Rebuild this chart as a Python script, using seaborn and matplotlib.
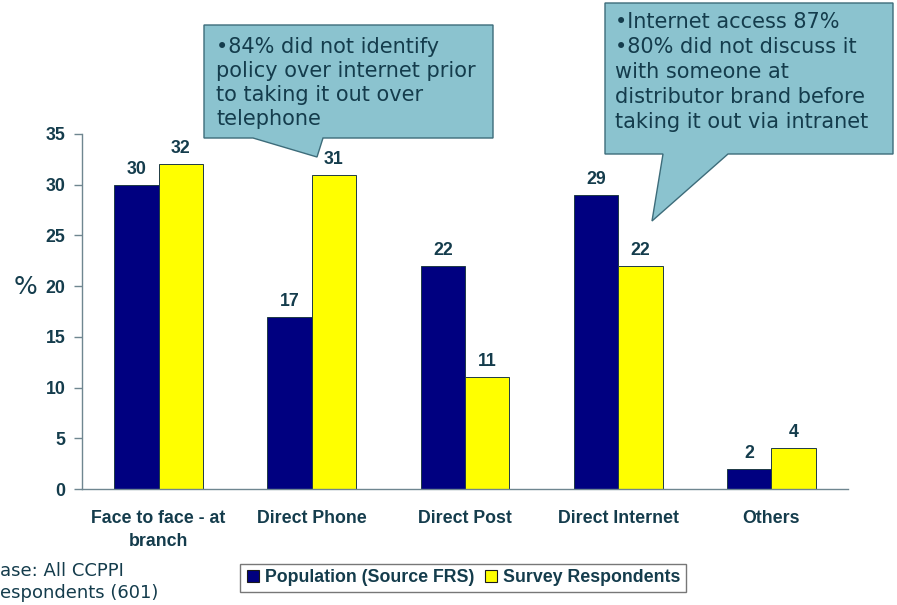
import matplotlib
matplotlib.use("Agg")
import matplotlib.pyplot as plt
from matplotlib.patches import Polygon
from matplotlib.lines import Line2D
import seaborn as sns
import pandas as pd
import numpy as np

categories = ["Face to face - at\nbranch", "Direct Phone", "Direct Post",
              "Direct Internet", "Others"]
population = [30, 17, 22, 29, 2]
survey = [32, 31, 11, 22, 4]
series_names = ["Population (Source FRS)", "Survey Respondents"]
series_colors = ["#000080", "#FFFF00"]
yticks = [0, 5, 10, 15, 20, 25, 30, 35]

note_phone = "•84% did not identify\npolicy over internet prior\nto taking it out over\ntelephone"
note_internet = ("•Internet access 87%\n•80% did not discuss it\nwith someone at\n"
                 "distributor brand before\ntaking it out via intranet")
base_note = "ase: All CCPPI\nespondents (601)"

df = pd.DataFrame({
    "channel": categories * 2,
    "series": [series_names[0]] * len(categories) + [series_names[1]] * len(categories),
    "value": population + survey,
})

sns.set_theme(style="white")
plt.rcParams["font.family"] = ["Liberation Sans", "DejaVu Sans"]

text_col = "#143c4c"
spine_col = "#6f8690"

W, H = 897, 605
fig = plt.figure(figsize=(W / 100, H / 100), dpi=100)
ax = fig.add_axes([82 / W, 1 - 489 / H, (848 - 82) / W, (489 - 134) / H])

sns.barplot(data=df, x="channel", y="value", hue="series",
            palette=series_colors, saturation=1, width=0.58,
            edgecolor="#1f3a45", linewidth=0.7, ax=ax, legend=False)

ax.set_ylim(0, 35)
ax.set_xlim(-0.5, len(categories) - 0.5)
ax.set_yticks(yticks)
ax.set_yticklabels([str(t) for t in yticks], fontsize=12.8, fontweight="bold",
                   color=text_col)
ax.set_xticks(range(len(categories)))
ax.set_xticklabels(categories, fontsize=12.8, fontweight="bold", color=text_col,
                   linespacing=1.45)
ax.set_xticks(np.arange(-0.5, len(categories), 1.0), minor=True)
ax.tick_params(axis="x", which="major", length=0, pad=15)
ax.tick_params(axis="x", which="minor", length=6, color=spine_col, width=1)
ax.tick_params(axis="y", length=6, color=spine_col, width=1, pad=6, left=True)
ax.set_xlabel("")
ax.set_ylabel("")
for s in ["top", "right"]:
    ax.spines[s].set_visible(False)
for s in ["left", "bottom"]:
    ax.spines[s].set_color(spine_col)
    ax.spines[s].set_linewidth(1)

for cont in ax.containers:
    ax.bar_label(cont, fmt="%d", padding=5, fontsize=12.8, fontweight="bold",
                 color=text_col)

fig.text(25 / W, 1 - 287 / H, "%", fontsize=18, color=text_col,
         family="DejaVu Sans", ha="center", va="center")


def px(points):
    return [(x / W, 1 - y / H) for x, y in points]


fill = "#8bc3cf"
edge = "#3d6c7a"
callout1 = [(204, 25), (493, 25), (493, 138), (323, 138), (317, 157),
            (253, 138), (204, 138)]
callout2 = [(605, 3), (893, 3), (893, 154), (728, 154), (652, 221),
            (663, 154), (605, 154)]
for pts in (callout1, callout2):
    fig.add_artist(Polygon(px(pts), closed=True, transform=fig.transFigure,
                           facecolor=fill, edgecolor=edge, linewidth=1.0))

fig.text(216 / W, 1 - 37 / H, note_phone, fontsize=15, color=text_col,
         family="DejaVu Sans", ha="left", va="top", linespacing=1.26)
fig.text(615 / W, 1 - 12 / H, note_internet, fontsize=15, color=text_col,
         family="DejaVu Sans", ha="left", va="top", linespacing=1.32)

fig.text(0, 1 - 562 / H, base_note, fontsize=13, color=text_col,
         family="DejaVu Sans", ha="left", va="top", linespacing=1.3)

handles = [Line2D([], [], linestyle="none", marker="s", markersize=9,
                  markerfacecolor=c, markeredgecolor="#1a1a1a",
                  markeredgewidth=0.8) for c in series_colors]
leg = fig.legend(handles, series_names, loc="center",
                 bbox_to_anchor=(463 / W, 1 - 578 / H), ncol=2,
                 frameon=True, fancybox=False, handlelength=0.8,
                 handletextpad=0.3, columnspacing=0.5, borderpad=0.3,
                 prop={"weight": "bold", "size": 12.8})
leg.get_frame().set_edgecolor("#555555")
leg.get_frame().set_linewidth(1.0)
for t in leg.get_texts():
    t.set_color(text_col)

fig.savefig("out.png", dpi=100)
